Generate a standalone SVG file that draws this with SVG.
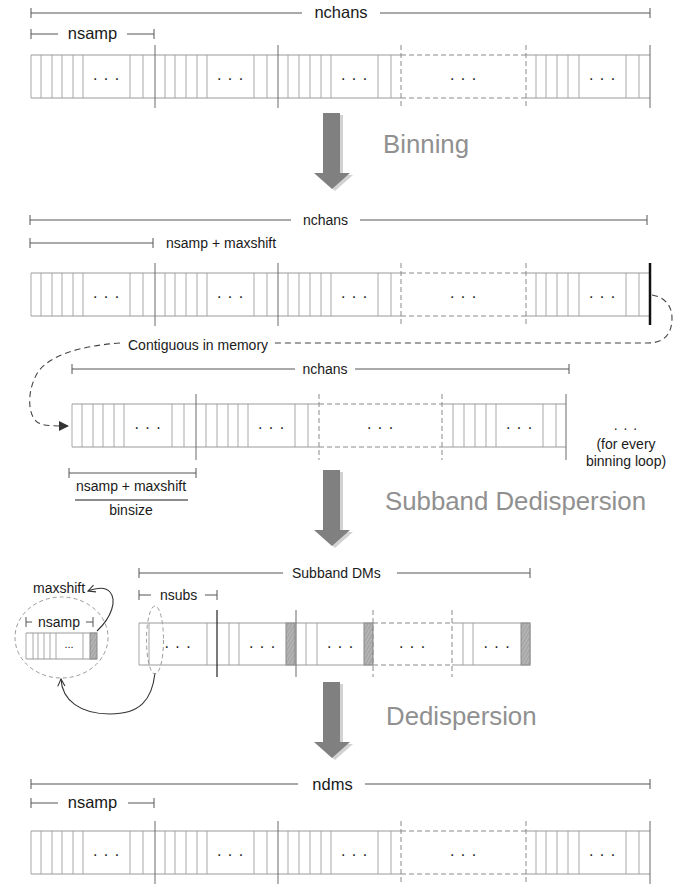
<svg xmlns="http://www.w3.org/2000/svg" xmlns:xlink="http://www.w3.org/1999/xlink" width="686" height="888" viewBox="0 0 686 888">
<style>
.c{stroke:#a8a8a8;stroke-width:1;fill:none}
.b{stroke:#9a9a9a;stroke-width:1;fill:none}
.s{stroke:#6a6a6a;stroke-width:1;fill:none}
.d{stroke:#8a8a8a;stroke-width:1;fill:none;stroke-dasharray:5,3}
.dim{stroke:#555;stroke-width:1;fill:none}
.t{font-family:"Liberation Sans",Arial,sans-serif;fill:#1a1a1a}
.m{font-size:14px}
.l{font-size:16.5px}
.dots{font-family:"Liberation Sans",Arial,sans-serif;font-size:16px;fill:#222;text-anchor:middle;letter-spacing:1px}
.big{font-family:"Liberation Sans",Arial,sans-serif;font-size:25.8px;fill:#909090}
.arr{fill:#808080}
.sh{fill:#d2d2d2}
.hat{fill:url(#hatch);stroke:#8a8a8a;stroke-width:1}
.ell{stroke:#9a9a9a;stroke-width:1;fill:none;stroke-dasharray:4,3}
.cur{stroke:#333;stroke-width:1.1;fill:none}
.mem{stroke:#444;stroke-width:1.1;fill:none;stroke-dasharray:6,4}
</style>
<defs>
<pattern id="hatch" width="3" height="3" patternUnits="userSpaceOnUse" patternTransform="rotate(30)">
<rect width="3" height="3" fill="#b4b4b4"/>
<line x1="0" y1="0" x2="0" y2="3" stroke="#8c8c8c" stroke-width="1"/>
</pattern>
<marker id="open" viewBox="0 0 10 10" refX="9" refY="5" markerWidth="9" markerHeight="9" orient="auto" markerUnits="userSpaceOnUse">
<path d="M1,1 L9,5 L1,9" fill="none" stroke="#333" stroke-width="1.2"/>
</marker>
<marker id="fill" viewBox="0 0 10 10" refX="9" refY="5" markerWidth="10" markerHeight="10" orient="auto" markerUnits="userSpaceOnUse">
<path d="M0,0 L10,5 L0,10 Z" fill="#333"/>
</marker>
<g id="stripA">
<path class="c" d="M31,0V43 M41,0V43 M52,0V43 M62,0V43 M73,0V43 M83,0V43 M130,0V43 M143,0V43 M165,0V43 M175,0V43 M186,0V43 M197,0V43 M207,0V43 M254,0V43 M267,0V43 M288,0V43 M299,0V43 M310,0V43 M321,0V43 M331,0V43 M378,0V43 M391,0V43 M536,0V43 M546,0V43 M557,0V43 M568,0V43 M579,0V43 M626,0V43 M639,0V43"/>
<path class="b" d="M31,0H401 M31,43H401 M526,0H650 M526,43H650"/>
<path class="d" d="M401,0H526 M401,43H526 M401,-10V53 M526,-10V53"/>
<path class="s" d="M155,-10V53 M278,-10V53"/>
</g>
<g id="arrowShape">
<polygon points="323,0 340,0 340,60 350,60 332,76 314,60 323,60"/>
</g>
</defs>
<rect width="686" height="888" fill="#fff"/>

<!-- Section 1 -->
<g id="dim-nchans-1">
<path class="dim" d="M31,13H302 M380,13H650 M31,8V18 M650,8V18"/>
<text class="t l" x="341" y="18" text-anchor="middle">nchans</text>
</g>
<g id="dim-nsamp-1">
<path class="dim" d="M31,34H58 M127,34H154 M31,29V39 M154,29V39"/>
<text class="t l" x="92.5" y="39" text-anchor="middle">nsamp</text>
</g>
<g id="strip-1">
<use xlink:href="#stripA" href="#stripA" y="55"/>
<path class="s" d="M650,45V108"/>
<text class="dots" x="106.5" y="80">. . .</text>
<text class="dots" x="230.5" y="80">. . .</text>
<text class="dots" x="354.5" y="80">. . .</text>
<text class="dots" x="463.5" y="80">. . .</text>
<text class="dots" x="602.5" y="80">. . .</text>
</g>

<g id="arrow-binning">
<use xlink:href="#arrowShape" href="#arrowShape" class="sh" transform="translate(3,115)"/>
<use xlink:href="#arrowShape" href="#arrowShape" class="arr" transform="translate(0,113)"/>
<text class="big" x="383" y="153">Binning</text>
</g>

<!-- Section 2 -->
<g id="dim-nchans-2">
<path class="dim" d="M30,220H291 M360,220H647 M30,215V225 M647,215V225"/>
<text class="t m" x="325.5" y="224.5" text-anchor="middle">nchans</text>
</g>
<g id="dim-nsamp-maxshift-2">
<path class="dim" d="M30,243H153 M30,238V248 M153,238V248"/>
<text class="t m" x="166" y="248">nsamp + maxshift</text>
</g>
<g id="strip-2">
<use xlink:href="#stripA" href="#stripA" y="273"/>
<path d="M650,263V325" stroke="#111" stroke-width="2.5"/>
<text class="dots" x="106.5" y="298">. . .</text>
<text class="dots" x="230.5" y="298">. . .</text>
<text class="dots" x="354.5" y="298">. . .</text>
<text class="dots" x="463.5" y="298">. . .</text>
<text class="dots" x="602.5" y="298">. . .</text>
</g>

<g id="connectors">
<path class="mem" d="M652,295 C664,297 672,305 672,318 C672,333 665,343 648,343 L272,343"/>
<path class="mem" d="M120,343 C80,346 50,355 38,372 C28,388 27,410 35,420 C40,426 50,426 68,426" marker-end="url(#fill)"/>
<path class="cur" d="M97,631 C112,617 117,600 110,592 C105,586 96,588 88,591" marker-end="url(#open)"/>
<path class="cur" d="M155,673 C152,700 140,714 110,714 C80,714 62,700 61,679" marker-end="url(#open)"/>
</g>
<g id="label-contiguous">
<text class="t m" x="128" y="350">Contiguous in memory</text>
</g>

<!-- Section 3 -->
<g id="dim-nchans-3">
<path class="dim" d="M72,369H295 M355,369H569 M72,364V374 M569,364V374"/>
<text class="t m" x="325" y="373.5" text-anchor="middle">nchans</text>
</g>
<g id="strip-3">
<path class="c" d="M72,404V447 M82,404V447 M93,404V447 M103,404V447 M114,404V447 M124,404V447 M172,404V447 M184,404V447 M206,404V447 M217,404V447 M228,404V447 M238,404V447 M248,404V447 M295,404V447 M308,404V447 M453,404V447 M464,404V447 M475,404V447 M486,404V447 M496,404V447 M543,404V447 M556,404V447"/>
<path class="b" d="M72,404H319 M72,447H319 M442,404H566 M442,447H566"/>
<path class="d" d="M319,404H442 M319,447H442 M319,394V460 M442,394V460"/>
<path class="s" d="M196,394V460 M566,394V460"/>
<text class="dots" x="148" y="429">. . .</text>
<text class="dots" x="271.5" y="429">. . .</text>
<text class="dots" x="380.5" y="429">. . .</text>
<text class="dots" x="519.5" y="429">. . .</text>
</g>
<g id="label-every-loop">
<text class="dots" x="626" y="430" style="font-size:14px">. . .</text>
<text class="t m" x="626" y="449" text-anchor="middle">(for every</text>
<text class="t m" x="626" y="466" text-anchor="middle">binning loop)</text>
</g>
<g id="dim-fraction">
<path class="dim" d="M69,473H196 M69,468V478 M196,468V478"/>
<text class="t m" x="131" y="491" text-anchor="middle">nsamp + maxshift</text>
<path d="M75,500H188" stroke="#1a1a1a" stroke-width="1"/>
<text class="t m" x="131" y="515" text-anchor="middle">binsize</text>
</g>

<g id="arrow-subband">
<use xlink:href="#arrowShape" href="#arrowShape" class="sh" transform="translate(3,472)"/>
<use xlink:href="#arrowShape" href="#arrowShape" class="arr" transform="translate(0,470)"/>
<text class="big" x="385" y="510">Subband Dedispersion</text>
</g>

<!-- Section 4 -->
<g id="dim-subband-dms">
<path class="dim" d="M139,573H283 M397,573H530 M139,568V578 M530,568V578"/>
<text class="t m" x="292" y="578">Subband DMs</text>
</g>
<g id="dim-nsubs">
<path class="dim" d="M139,595H151 M205,595H217 M139,590V600 M217,590V600"/>
<text class="t m" x="160" y="600">nsubs</text>
</g>
<g id="strip-4">
<rect class="hat" x="286" y="623" width="9" height="42"/>
<rect class="hat" x="364" y="623" width="9" height="42"/>
<rect class="hat" x="521" y="623" width="9" height="42"/>
<path class="c" d="M139,623V665 M149,623V665 M207,623V665 M229,623V665 M239,623V665 M306,623V665 M317,623V665 M463,623V665 M473,623V665"/>
<path class="b" d="M139,623H373 M139,665H373 M452,623H530 M452,665H530 M530,623V665"/>
<path class="d" d="M373,623H452 M373,665H452 M373,610V677 M452,610V677"/>
<path d="M217,610V677" stroke="#222" stroke-width="1.2"/>
<path class="s" d="M296,610V677"/>
<text class="dots" x="178" y="648">. . .</text>
<text class="dots" x="262.5" y="648">. . .</text>
<text class="dots" x="340.5" y="648">. . .</text>
<text class="dots" x="412.5" y="648">. . .</text>
<text class="dots" x="497" y="648">. . .</text>
<ellipse class="ell" cx="155" cy="640" rx="8.5" ry="34"/>
</g>
<g id="zoom-detail">
<ellipse class="ell" cx="61.5" cy="637.5" rx="46.5" ry="40.5"/>
<path class="dim" d="M26,622H32 M86,622H93 M26,617V627 M93,617V627"/>
<text class="t m" x="59" y="627" text-anchor="middle">nsamp</text>
<rect class="hat" x="90" y="633" width="7" height="26"/>
<path class="c" d="M26,633V659 M33,633V659 M38,633V659 M44,633V659 M50,633V659 M56,633V659 M83,633V659"/>
<path class="b" d="M26,633H97 M26,659H97"/>
<text class="t" x="69" y="648" text-anchor="middle" style="font-size:11px">...</text>
</g>
<g id="label-maxshift">
<text class="t m" x="33" y="593">maxshift</text>
</g>

<g id="arrow-dedispersion">
<use xlink:href="#arrowShape" href="#arrowShape" class="sh" transform="translate(3,684)"/>
<use xlink:href="#arrowShape" href="#arrowShape" class="arr" transform="translate(0,682)"/>
<text class="big" x="386" y="725">Dedispersion</text>
</g>

<!-- Section 5 -->
<g id="dim-ndms">
<path class="dim" d="M31,784H298 M365,784H650 M31,779V789 M650,779V789"/>
<text class="t l" x="332.5" y="790" text-anchor="middle">ndms</text>
</g>
<g id="dim-nsamp-5">
<path class="dim" d="M31,803H58 M128,803H154 M31,798V808 M154,798V808"/>
<text class="t l" x="92.5" y="808" text-anchor="middle">nsamp</text>
</g>
<g id="strip-5">
<use xlink:href="#stripA" href="#stripA" y="831"/>
<path class="s" d="M650,821V884"/>
<text class="dots" x="106.5" y="856">. . .</text>
<text class="dots" x="230.5" y="856">. . .</text>
<text class="dots" x="354.5" y="856">. . .</text>
<text class="dots" x="463.5" y="856">. . .</text>
<text class="dots" x="602.5" y="856">. . .</text>
</g>
</svg>
